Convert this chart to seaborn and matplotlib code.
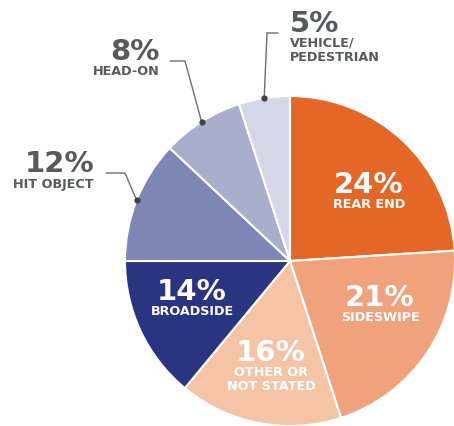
import matplotlib
matplotlib.use('Agg')
import numpy as np
import seaborn as sns
from matplotlib import pyplot as plt

# collision types, clockwise from 12 o'clock
categories = ['REAR END', 'SIDESWIPE', 'OTHER OR\nNOT STATED', 'BROADSIDE',
              'HIT OBJECT', 'HEAD-ON', 'VEHICLE/\nPEDESTRIAN']
shares = [24, 21, 16, 14, 12, 8, 5]

palette = sns.color_palette(['#E56727', '#F0A27C', '#F5C3A6', '#2A3480',
                             '#7E86B3', '#A9AECC', '#D4D7E8'])

sns.set_theme(style='white')
plt.rcParams['font.family'] = ['DejaVu Sans']

W, H = 454, 426
CX, CY, R = 290, 261, 165


def Y(y):
    # pixel rows (top-down) to data y
    return H - y


fig = plt.figure(figsize=(W / 100, H / 100), dpi=100)
ax = fig.add_axes([0, 0, 1, 1])
wedges, _ = ax.pie(shares, colors=palette, startangle=90, counterclock=False,
                   center=(CX, Y(CY)), radius=R,
                   wedgeprops=dict(edgecolor='white', linewidth=1.5))
ax.set_xlim(0, W)
ax.set_ylim(0, H)
ax.axis('off')

big = 21
small = 9.2
gray = '#58595B'

# label layout: (x, percent baseline, sub baseline[, align])
inside = {
    'REAR END': (369, 193, 208),
    'SIDESWIPE': (380, 306, 321),
    'OTHER OR\nNOT STATED': (271, 361, 376),
    'BROADSIDE': (192, 300, 315),
}
outside = {
    'HIT OBJECT': (94, 172, 188, 'right'),
    'HEAD-ON': (160, 60, 75, 'right'),
    'VEHICLE/\nPEDESTRIAN': (290, 32, 47, 'left'),
}
# leader lines: elbow and end of the horizontal part
leaders = {
    'HIT OBJECT': [(125, 173), (106, 173)],
    'HEAD-ON': [(185, 61), (170, 61)],
    'VEHICLE/\nPEDESTRIAN': [(267, 33), (278, 33)],
}

for w, cat, val in zip(wedges, categories, shares):
    pct = f'{val}%'
    lines = cat.split('\n')
    if cat in inside:
        x, yb, ys = inside[cat]
        al, col = 'center', 'white'
    else:
        x, yb, ys, al = outside[cat]
        col = gray
    ax.text(x, Y(yb), pct, color=col, fontsize=big, fontweight='bold',
            ha=al, va='baseline')
    for i, ln in enumerate(lines):
        ax.text(x, Y(ys + i * 14), ln, color=col, fontsize=small,
                fontweight='bold', ha=al, va='baseline')
    if cat in leaders:
        mid = np.deg2rad((w.theta1 + w.theta2) / 2)
        px = CX + R * np.cos(mid)
        py = CY - R * np.sin(mid)
        pts = [(px, py)] + leaders[cat]
        ax.plot([p[0] for p in pts], [Y(p[1]) for p in pts], color='#6D6E71',
                lw=1, solid_joinstyle='miter')
        ax.plot(px, Y(py), 'o', color='#414042', ms=3.5)

fig.savefig('out.png', dpi=100)
